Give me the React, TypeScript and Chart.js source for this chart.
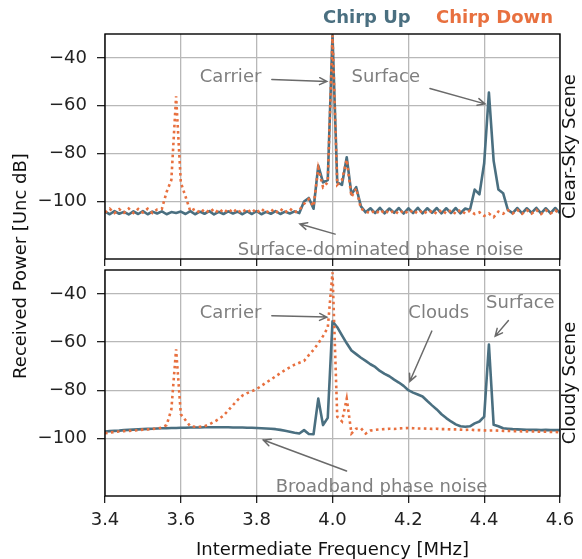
import React, { useEffect, useRef } from 'react';
import { Chart, registerables } from 'chart.js';

Chart.register(...registerables);

// ---------- data ----------
const freqMHz = [
  3.4, 3.4125, 3.425, 3.4375, 3.45, 3.4625, 3.475, 3.4875,
  3.5, 3.5125, 3.525, 3.5375, 3.55, 3.5625, 3.575, 3.5875,
  3.6, 3.6125, 3.625, 3.6375, 3.65, 3.6625, 3.675, 3.6875,
  3.7, 3.7125, 3.725, 3.7375, 3.75, 3.7625, 3.775, 3.7875,
  3.8, 3.8125, 3.825, 3.8375, 3.85, 3.8625, 3.875, 3.8875,
  3.9, 3.9125, 3.925, 3.9375, 3.95, 3.9625, 3.975, 3.9875,
  4.0, 4.0125, 4.025, 4.0375, 4.05, 4.0625, 4.075, 4.0875,
  4.1, 4.1125, 4.125, 4.1375, 4.15, 4.1625, 4.175, 4.1875,
  4.2, 4.2125, 4.225, 4.2375, 4.25, 4.2625, 4.275, 4.2875,
  4.3, 4.3125, 4.325, 4.3375, 4.35, 4.3625, 4.375, 4.3875,
  4.4, 4.4125, 4.425, 4.4375, 4.45, 4.4625, 4.475, 4.4875,
  4.5, 4.5125, 4.525, 4.5375, 4.55, 4.5625, 4.575, 4.5875,
  4.6,
];

const clearSkyUp = [
  -104.2, -105.3, -104.0, -105.1, -104.3, -105.4, -104.1, -105.2,
  -104.0, -105.3, -104.2, -105.0, -104.1, -105.3, -104.4, -104.8,
  -104.2, -105.2, -104.0, -105.3, -104.2, -105.1, -104.0, -105.4,
  -104.3, -105.2, -104.1, -105.0, -104.2, -105.3, -104.1, -105.2,
  -104.0, -105.3, -104.3, -105.1, -104.0, -105.2, -104.2, -105.0,
  -104.1, -104.8, -100.0, -98.5, -103.0, -85.0, -92.0, -91.0,
  -30.5, -92.0, -93.0, -81.5, -97.0, -94.0, -102.0, -104.5,
  -102.8, -104.8, -102.6, -104.9, -102.9, -104.7, -102.7, -105.0,
  -102.8, -104.8, -102.6, -104.9, -102.8, -104.7, -102.7, -104.9,
  -102.8, -104.8, -102.7, -104.9, -102.9, -103.5, -95.0, -97.0,
  -84.0, -54.5, -83.0, -95.0, -96.5, -103.5, -104.8, -102.7,
  -104.9, -102.8, -104.7, -102.6, -104.9, -102.8, -104.8, -102.7,
  -104.8,
];

const clearSkyDown = [
  -104.6, -103.0, -104.8, -103.2, -104.7, -102.9, -104.8, -103.1,
  -104.6, -103.0, -104.8, -103.3, -103.0, -96.0, -91.0, -56.0,
  -92.0, -98.0, -104.0, -103.0, -104.8, -103.2, -104.6, -103.0,
  -104.8, -103.1, -104.7, -103.0, -104.8, -103.2, -104.6, -103.1,
  -104.8, -103.0, -104.7, -103.2, -104.8, -103.1, -104.6, -103.0,
  -104.5, -103.5, -101.0, -99.0, -102.0, -86.0, -94.0, -92.0,
  -30.5, -93.0, -91.0, -82.5, -98.0, -94.5, -103.0, -104.0,
  -105.0, -103.6, -105.1, -103.5, -105.0, -103.7, -105.2, -103.6,
  -105.0, -103.5, -105.1, -103.6, -105.0, -103.7, -105.1, -103.5,
  -105.0, -103.6, -105.1, -103.5, -105.0, -103.8, -105.2, -104.5,
  -106.0, -105.0, -106.5, -104.2, -105.1, -103.6, -105.0, -103.5,
  -105.1, -103.6, -105.0, -103.5, -105.2, -103.6, -105.0, -103.7,
  -105.0,
];

const cloudyUp = [
  -97.2, -97.0, -96.9, -96.8, -96.6, -96.5, -96.4, -96.3,
  -96.2, -96.1, -96.0, -95.9, -95.8, -95.8, -95.7, -95.7,
  -95.6, -95.6, -95.5, -95.5, -95.5, -95.4, -95.4, -95.4,
  -95.4, -95.4, -95.4, -95.5, -95.5, -95.5, -95.6, -95.6,
  -95.7, -95.8, -95.9, -96.0, -96.2, -96.5, -96.9, -97.3,
  -97.7, -98.0, -96.6, -98.2, -98.3, -83.5, -94.5, -91.5,
  -51.3, -53.8, -57.2, -60.5, -63.5, -65.0, -66.5, -67.8,
  -69.2, -70.3, -72.0, -73.2, -74.2, -75.6, -76.8, -78.2,
  -80.0, -81.0, -81.8, -82.6, -84.5, -86.3, -88.0, -90.0,
  -91.6, -93.0, -94.2, -95.0, -95.2, -95.0, -93.8, -93.0,
  -91.0, -61.0, -94.4, -95.0, -95.8, -96.0, -96.2, -96.3,
  -96.4, -96.5, -96.5, -96.5, -96.6, -96.5, -96.6, -96.6,
  -96.6,
];

const cloudyDown = [
  -97.9, -97.6, -97.4, -97.2, -97.0, -96.9, -96.8, -96.6,
  -96.4, -96.3, -96.1, -96.0, -95.5, -94.5, -88.0, -63.0,
  -90.0, -92.5, -95.0, -95.2, -95.2, -95.0, -94.2, -93.2,
  -92.0, -90.6, -88.4, -86.2, -84.0, -82.2, -81.2, -80.4,
  -79.5, -78.2, -76.8, -75.6, -74.2, -72.9, -71.6, -70.5,
  -69.4, -68.6, -67.8, -65.4, -63.2, -60.5, -57.5, -54.0,
  -31.0, -91.0, -93.0, -83.5, -98.0, -96.0, -95.8, -98.0,
  -96.8, -96.5, -96.3, -96.2, -96.0, -96.1, -95.9, -95.8,
  -95.7, -95.8, -95.9, -95.9, -96.0, -96.1, -96.0, -96.2,
  -96.2, -96.3, -96.3, -96.4, -96.5, -96.4, -96.6, -96.6,
  -96.7, -96.8, -96.7, -96.8, -96.9, -96.9, -97.0, -97.0,
  -97.1, -97.1, -97.2, -97.2, -97.3, -97.3, -97.4, -97.4,
  -97.5,
];

const xTickValues = [3.4, 3.6, 3.8, 4.0, 4.2, 4.4, 4.6];
const yTickValues = [-40, -60, -80, -100];
const seriesNames = ['Chirp Up', 'Chirp Down'];
const panelNames = ['Clear-Sky Scene', 'Cloudy Scene'];
const xTitle = 'Intermediate Frequency [MHz]';
const yTitle = 'Received Power [Unc dB]';

type Note = { text: string; at: [number, number]; from: [number, number]; to: [number, number] };

const clearSkyNotes: Note[] = [
  { text: 'Carrier', at: [3.65, -50], from: [3.84, -49.0], to: [3.985, -49.8] },
  { text: 'Surface', at: [4.05, -50], from: [4.257, -52.8], to: [4.402, -59.2] },
  { text: 'Surface-dominated phase noise', at: [3.75, -122.5], from: [4.007, -113.6], to: [3.914, -109.4] },
];
const cloudyNotes: Note[] = [
  { text: 'Carrier', at: [3.65, -50], from: [3.84, -49.0], to: [3.985, -49.6] },
  { text: 'Clouds', at: [4.2, -50], from: [4.262, -55.4], to: [4.204, -76.3] },
  { text: 'Surface', at: [4.405, -46], from: [4.464, -51], to: [4.429, -57.5] },
  { text: 'Broadband phase noise', at: [3.85, -122.5], from: [4.037, -113.6], to: [3.8175, -100.7] },
];

// ---------- style ----------
const W = 582;
const H = 559;
const FONT = "'DejaVu Sans', 'Liberation Sans', sans-serif";
const UP_COLOR = '#4a6f80';
const DOWN_COLOR = '#e8703f';
const NOTE_COLOR = '#7f7f7f';
const ARROW_COLOR = '#6a6a6a';
const PLOT_LEFT = 105;
const PLOT_RIGHT = 560;
const PANELS = [
  { top: 34, bottom: 259 },
  { top: 270, bottom: 496 },
];

function drawArrow(ctx: CanvasRenderingContext2D, x0: number, y0: number, x1: number, y1: number) {
  const ang = Math.atan2(y1 - y0, x1 - x0);
  const hl = 8;
  const hw = 0.45;
  ctx.beginPath();
  ctx.moveTo(x0, y0);
  ctx.lineTo(x1, y1);
  ctx.moveTo(x1 - hl * Math.cos(ang - hw), y1 - hl * Math.sin(ang - hw));
  ctx.lineTo(x1, y1);
  ctx.lineTo(x1 - hl * Math.cos(ang + hw), y1 - hl * Math.sin(ang + hw));
  ctx.stroke();
}

function makeConfig(panel: number): any {
  const isTop = panel === 0;
  const up = isTop ? clearSkyUp : cloudyUp;
  const down = isTop ? clearSkyDown : cloudyDown;
  const notes = isTop ? clearSkyNotes : cloudyNotes;
  const area = PANELS[panel];
  const xAxisH = isTop ? 8 : 40;

  const decor = {
    id: 'decor' + panel,
    afterDraw(chart: any) {
      const { ctx, chartArea: a } = chart;
      const xs = chart.scales.x;
      const ys = chart.scales.y;
      ctx.save();
      // frame
      ctx.strokeStyle = '#000';
      ctx.lineWidth = 1.4;
      ctx.strokeRect(a.left, a.top, a.right - a.left, a.bottom - a.top);
      // annotations
      ctx.font = `18px ${FONT}`;
      ctx.fillStyle = NOTE_COLOR;
      ctx.textAlign = 'left';
      ctx.textBaseline = 'alphabetic';
      ctx.strokeStyle = ARROW_COLOR;
      ctx.lineWidth = 1.5;
      ctx.lineCap = 'round';
      for (const n of notes) {
        ctx.fillText(n.text, xs.getPixelForValue(n.at[0]), ys.getPixelForValue(n.at[1]));
        drawArrow(
          ctx,
          xs.getPixelForValue(n.from[0]), ys.getPixelForValue(n.from[1]),
          xs.getPixelForValue(n.to[0]), ys.getPixelForValue(n.to[1]),
        );
      }
      // panel label on right
      ctx.fillStyle = '#111';
      ctx.font = `18px ${FONT}`;
      ctx.textAlign = 'center';
      ctx.textBaseline = 'middle';
      ctx.save();
      ctx.translate(570, (a.top + a.bottom) / 2);
      ctx.rotate(-Math.PI / 2);
      ctx.fillText(panelNames[panel], 0, 0);
      ctx.restore();

      if (isTop) {
        // legend as coloured bold text
        ctx.font = `bold 18px ${FONT}`;
        ctx.textBaseline = 'alphabetic';
        ctx.textAlign = 'left';
        ctx.fillStyle = UP_COLOR;
        ctx.fillText(seriesNames[0], 323, 23);
        ctx.fillStyle = DOWN_COLOR;
        ctx.fillText(seriesNames[1], 436, 23);
        // shared y title
        ctx.fillStyle = '#111';
        ctx.font = `18px ${FONT}`;
        ctx.textAlign = 'center';
        ctx.textBaseline = 'middle';
        ctx.save();
        ctx.translate(21, 266);
        ctx.rotate(-Math.PI / 2);
        ctx.fillText(yTitle, 0, 0);
        ctx.restore();
      } else {
        ctx.fillStyle = '#111';
        ctx.font = `18px ${FONT}`;
        ctx.textAlign = 'center';
        ctx.textBaseline = 'alphabetic';
        ctx.fillText(xTitle, (a.left + a.right) / 2, 555);
      }
      ctx.restore();
    },
  };

  return {
    type: 'line',
    data: {
      datasets: [
        {
          label: seriesNames[1],
          data: freqMHz.map((f, i) => ({ x: f, y: down[i] })),
          borderColor: DOWN_COLOR,
          borderWidth: 2.6,
          borderDash: [2.6, 3.4],
          borderCapStyle: 'butt',
          pointRadius: 0,
          tension: 0,
          fill: false,
        },
        {
          label: seriesNames[0],
          data: freqMHz.map((f, i) => ({ x: f, y: up[i] })),
          borderColor: UP_COLOR,
          borderWidth: 2.6,
          borderJoinStyle: 'round',
          pointRadius: 0,
          tension: 0,
          fill: false,
        },
      ],
    },
    options: {
      responsive: false,
      animation: false,
      devicePixelRatio: 1,
      events: [],
      layout: {
        padding: {
          left: 0,
          right: W - PLOT_RIGHT,
          top: area.top,
          bottom: H - area.bottom - xAxisH,
        },
      },
      plugins: {
        legend: { display: false },
        tooltip: { enabled: false },
        title: { display: false },
      },
      scales: {
        x: {
          type: 'linear',
          min: 3.4,
          max: 4.6,
          offset: false,
          afterFit: (s: any) => { s.height = xAxisH; },
          afterBuildTicks: (s: any) => { s.ticks = xTickValues.map((v) => ({ value: v })); },
          ticks: {
            display: !isTop,
            autoSkip: false,
            maxRotation: 0,
            padding: 7,
            color: '#222',
            font: { family: FONT, size: 18 },
            callback: (v: any) => Number(v).toFixed(1),
          },
          grid: {
            color: '#b8b8b8',
            lineWidth: 1.3,
            tickColor: '#222',
            tickLength: 7,
            tickWidth: 1.3,
          },
          border: { display: false },
        },
        y: {
          type: 'linear',
          min: -124,
          max: -30,
          afterFit: (s: any) => { s.width = PLOT_LEFT; },
          afterBuildTicks: (s: any) => { s.ticks = yTickValues.map((v) => ({ value: v })); },
          ticks: {
            padding: 10,
            color: '#222',
            font: { family: FONT, size: 18 },
            callback: (v: any) => (Number(v) < 0 ? '\u2212' : '') + Math.abs(Number(v)),
          },
          grid: {
            color: '#b8b8b8',
            lineWidth: 1.3,
            tickColor: '#222',
            tickLength: 8,
            tickWidth: 1.3,
          },
          border: { display: false },
        },
      },
    },
    plugins: [decor],
  };
}

export default function App() {
  const topRef = useRef<HTMLCanvasElement | null>(null);
  const botRef = useRef<HTMLCanvasElement | null>(null);

  useEffect(() => {
    const bottom = new Chart(botRef.current as HTMLCanvasElement, makeConfig(1));
    const top = new Chart(topRef.current as HTMLCanvasElement, makeConfig(0));
    return () => {
      top.destroy();
      bottom.destroy();
    };
  }, []);

  return (
    <div style={{ position: 'fixed', left: 0, top: 0, width: W, height: H, background: '#fff' }}>
      <canvas ref={botRef} width={W} height={H} style={{ position: 'absolute', left: 0, top: 0 }} />
      <canvas ref={topRef} width={W} height={H} style={{ position: 'absolute', left: 0, top: 0 }} />
    </div>
  );
}
